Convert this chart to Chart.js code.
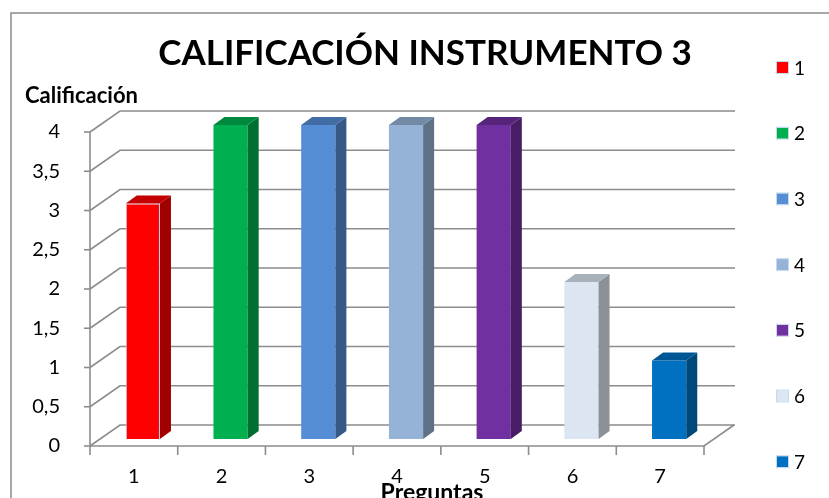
<!DOCTYPE html>
<html>
<head>
<meta charset="utf-8">
<script src="https://cdn.jsdelivr.net/npm/chart.js@4.4.1/dist/chart.umd.min.js"></script>
<style>
  html, body { margin: 0; padding: 0; background: #fff; }
  canvas { display: block; }
</style>
</head>
<body>
<canvas id="chart" width="829" height="498"></canvas>
<script>
// Questions on the x axis and the grade each one received
const categories = ['1', '2', '3', '4', '5', '6', '7'];
const scores = [3, 4, 4, 4, 4, 2, 1];
const yTickLabels = ['0', '0,5', '1', '1,5', '2', '2,5', '3', '3,5', '4'];

const chartTitle = 'CALIFICACIÓN INSTRUMENTO 3';
const yAxisTitle = 'Calificación';
const xAxisTitle = 'Preguntas';

// Front-face colour of each bar
const faceColors = ['#FF0000', '#00B050', '#558ED5', '#95B3D7', '#7030A0', '#DCE6F2', '#0070C0'];

const FONT = 'Lato, "Open Sans", sans-serif';
const GRID_COLOR = '#8c8c8c';
const WALL = { dx: 30, dy: -21 };      // offset of the back wall from the front plane
const BAR_SHIFT = { dx: 9, dy: -7 };   // bars stand part-way into the floor
const BAR_DEPTH = { dx: 11, dy: -8 };  // side / top face size of each bar

function shade(hex, f) {
  const n = parseInt(hex.slice(1), 16);
  const r = Math.round(((n >> 16) & 255) * f);
  const g = Math.round(((n >> 8) & 255) * f);
  const b = Math.round((n & 255) * f);
  return `rgb(${r},${g},${b})`;
}
const sideColors = faceColors.map(c => shade(c, 0.63));
const topColors = faceColors.map(c => shade(c, 0.77));

// Back wall, side wall, floor and axis ticks of the 3-D box
const boxPlugin = {
  id: 'box3d',
  beforeDraw(chart) {
    const ctx = chart.ctx;
    ctx.save();
    ctx.fillStyle = '#fff';
    ctx.fillRect(0, 0, chart.width, chart.height);
    ctx.strokeStyle = '#8a8a8a';
    ctx.lineWidth = 1.5;
    ctx.strokeRect(11, 13, chart.width + 20, chart.height + 20);
    ctx.restore();
  },
  beforeDatasetsDraw(chart) {
    const ctx = chart.ctx;
    const { left, right, bottom } = chart.chartArea;
    const y = chart.scales.y;
    ctx.save();
    ctx.strokeStyle = GRID_COLOR;
    ctx.lineWidth = 1.6;
    ctx.lineCap = 'butt';
    yTickLabels.forEach((_, i) => {
      const py = y.getPixelForValue(i * 0.5);
      ctx.beginPath();
      ctx.moveTo(left, py);
      ctx.lineTo(left + WALL.dx, py + WALL.dy);
      ctx.lineTo(right + WALL.dx + 1, py + WALL.dy);
      ctx.stroke();
      // tick mark on the front axis
      ctx.beginPath();
      ctx.moveTo(left - 6, py);
      ctx.lineTo(left, py);
      ctx.stroke();
    });
    // front vertical axis
    ctx.beginPath();
    ctx.moveTo(left, y.getPixelForValue(4));
    ctx.lineTo(left, bottom);
    ctx.stroke();
    // floor front edge and right edge
    ctx.beginPath();
    ctx.moveTo(left, bottom);
    ctx.lineTo(right, bottom);
    ctx.lineTo(right + WALL.dx, bottom + WALL.dy);
    ctx.stroke();
    // category separators below the floor
    const step = (right - left) / categories.length;
    for (let i = 0; i <= categories.length; i++) {
      const px = left + i * step;
      ctx.beginPath();
      ctx.moveTo(px, bottom);
      ctx.lineTo(px, bottom + 9);
      ctx.stroke();
    }
    ctx.restore();
    // bars are drawn a little way into the box
    ctx.save();
    ctx.translate(BAR_SHIFT.dx, BAR_SHIFT.dy);
  },
  afterDatasetsDraw(chart) {
    const ctx = chart.ctx;
    const meta = chart.getDatasetMeta(0);
    meta.data.forEach((bar, i) => {
      const { x, y, base, width } = bar.getProps(['x', 'y', 'base', 'width'], true);
      const l = x - width / 2, r = x + width / 2;
      ctx.fillStyle = sideColors[i];
      ctx.beginPath();
      ctx.moveTo(r, y);
      ctx.lineTo(r + BAR_DEPTH.dx, y + BAR_DEPTH.dy);
      ctx.lineTo(r + BAR_DEPTH.dx, base + BAR_DEPTH.dy);
      ctx.lineTo(r, base);
      ctx.closePath();
      ctx.fill();
      ctx.fillStyle = topColors[i];
      ctx.beginPath();
      ctx.moveTo(l, y);
      ctx.lineTo(l + BAR_DEPTH.dx, y + BAR_DEPTH.dy);
      ctx.lineTo(r + BAR_DEPTH.dx, y + BAR_DEPTH.dy);
      ctx.lineTo(r, y);
      ctx.closePath();
      ctx.fill();
    });
    ctx.restore();
  },
  afterDraw(chart) {
    const ctx = chart.ctx;
    ctx.save();
    ctx.fillStyle = '#000';
    ctx.textBaseline = 'alphabetic';
    ctx.textAlign = 'left';
    ctx.font = `bold 22px ${FONT}`;
    ctx.fillText(yAxisTitle, 25, 103);
    ctx.textAlign = 'center';
    ctx.font = `bold 23px ${FONT}`;
    ctx.fillText(xAxisTitle, 432, 500);
    // legend: one entry per question
    ctx.textAlign = 'left';
    ctx.textBaseline = 'middle';
    ctx.font = `19px ${FONT}`;
    categories.forEach((c, i) => {
      const cy = 67.5 + i * 65.7;
      ctx.fillStyle = faceColors[i];
      ctx.fillRect(777, cy - 5.5, 11, 11);
      ctx.strokeStyle = '#C6D9F1';
      ctx.lineWidth = 1;
      ctx.strokeRect(776.5, cy - 6, 12, 12);
      ctx.fillStyle = '#000';
      ctx.fillText(c, 794, cy + 1);
    });
    ctx.restore();
  }
};

new Chart(document.getElementById('chart'), {
  type: 'bar',
  data: {
    labels: categories,
    datasets: [{
      data: scores,
      backgroundColor: faceColors,
      borderColor: faceColors.map((c, i) => i === 0 ? '#C6D9F1' : c),
      borderWidth: faceColors.map((c, i) => i === 0 ? 1 : 0),
      categoryPercentage: 1,
      barPercentage: 0.39,
      clip: false
    }]
  },
  options: {
    responsive: false,
    animation: false,
    devicePixelRatio: 1,
    layout: { padding: { left: 21, right: 0, top: 0, bottom: 0 } },
    plugins: {
      legend: { display: false },
      tooltip: { enabled: false },
      title: {
        display: true,
        text: chartTitle,
        color: '#000',
        font: { family: FONT, size: 35, weight: 'bold', lineHeight: 1.2 },
        padding: { top: 33, bottom: 57 }
      }
    },
    scales: {
      x: {
        grid: { display: false },
        border: { display: false },
        ticks: { color: '#000', font: { family: FONT, size: 20 }, padding: 11, maxRotation: 0 },
        afterFit(s) { s.height = 52; }
      },
      y: {
        min: 0,
        max: 4,
        grid: { display: false },
        border: { display: false },
        ticks: {
          stepSize: 0.5,
          color: '#000',
          font: { family: FONT, size: 20 },
          padding: 22,
          callback: (v, i) => yTickLabels[i]
        },
        afterFit(s) { s.width = 69; }
      },
      y2: {
        position: 'right',
        grid: { display: false },
        border: { display: false },
        ticks: { display: false },
        afterFit(s) { s.width = 125; }
      }
    }
  },
  plugins: [boxPlugin]
});
</script>
</body>
</html>
